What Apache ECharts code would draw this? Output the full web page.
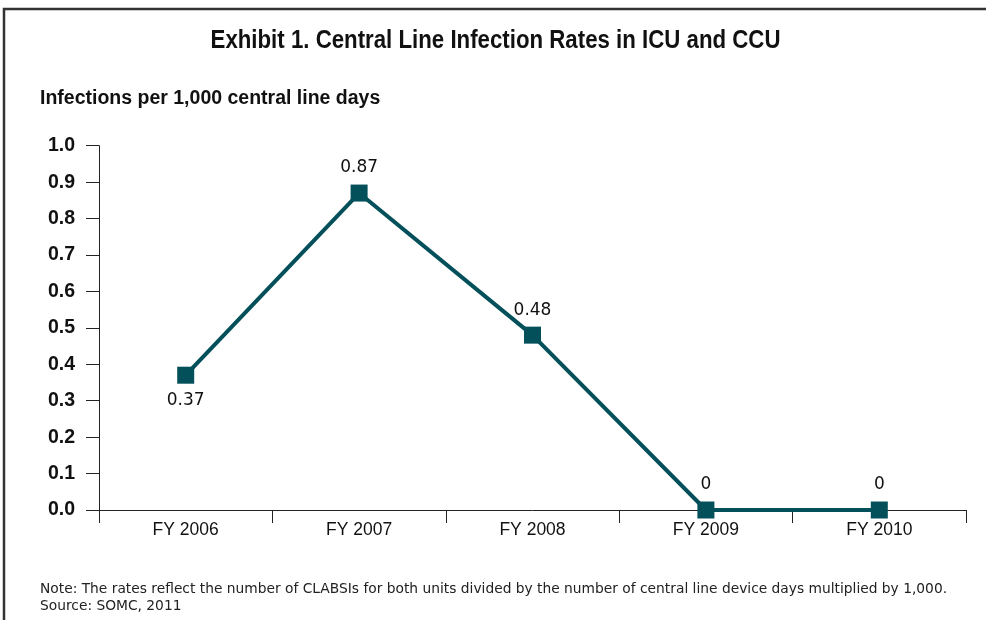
<!DOCTYPE html>
<html><head><meta charset="utf-8">
<script src="https://cdn.jsdelivr.net/npm/echarts@6/dist/echarts.min.js"></script>
<style>html,body{margin:0;padding:0;background:#fff}#c{width:986px;height:620px}</style>
</head><body><div id="c"></div>
<script>
const categories = ['FY 2006', 'FY 2007', 'FY 2008', 'FY 2009', 'FY 2010'];
const rates = [0.37, 0.87, 0.48, 0, 0];
const labelPositions = ['bottom', 'top', 'top', 'top', 'top'];
const yTicks = { min: 0, max: 1, interval: 0.1 };
const titleText = 'Exhibit 1. Central Line Infection Rates in ICU and CCU';
const yAxisTitle = 'Infections per 1,000 central line days';
const noteLines = [
  'Note: The rates reflect the number of CLABSIs for both units divided by the number of central line device days multiplied by 1,000.',
  'Source: SOMC, 2011'
];

const lineColor = '#03505a';
const sans = '"Liberation Sans", Arial, sans-serif';
const dejavu = '"DejaVu Sans", Verdana, sans-serif';

const chart = echarts.init(document.getElementById('c'), null, { renderer: 'canvas' });
chart.setOption({
  animation: false,
  backgroundColor: '#fff',
  grid: { left: 99, right: 20, top: 145.7, bottom: 110, containLabel: false },
  xAxis: {
    type: 'category', data: categories, boundaryGap: true,
    axisLine: { lineStyle: { color: '#222', width: 1 } },
    axisTick: { show: true, length: 13, lineStyle: { color: '#222' } },
    axisLabel: { margin: 11, fontFamily: sans, fontSize: 17.5, color: '#111' },
    splitLine: { show: false }
  },
  yAxis: {
    type: 'value', min: yTicks.min, max: yTicks.max, interval: yTicks.interval,
    axisLine: { show: true, lineStyle: { color: '#222', width: 1 } },
    axisTick: { show: true, length: 13, lineStyle: { color: '#222' } },
    axisLabel: { margin: 24, fontFamily: sans, fontSize: 19.5, fontWeight: 'bold', color: '#111',
      formatter: v => v.toFixed(1) },
    splitLine: { show: false }
  },
  series: [{
    type: 'line',
    data: rates.map((v, i) => ({ value: v, label: { position: labelPositions[i] } })),
    clip: false,
    symbol: 'rect', symbolSize: 17,
    lineStyle: { color: lineColor, width: 4 },
    itemStyle: { color: lineColor },
    label: { show: true, distance: 8, fontFamily: dejavu, fontSize: 17, color: '#111',
      formatter: p => String(p.value) }
  }],
  graphic: [
    { type: 'polyline', shape: { points: [[4, 620], [4, 9], [986, 9]] },
      style: { stroke: '#333', lineWidth: 2.5, fill: null } },
    { type: 'text', x: 495.5, y: 41, scaleX: 0.89,
      style: { text: titleText, x: 0, y: 0, textAlign: 'center', textVerticalAlign: 'middle', verticalAlign: 'middle',
        font: 'bold 25px ' + sans, fill: '#111' } },
    { type: 'text', x: 40, y: 98.5,
      style: { text: yAxisTitle, x: 0, y: 0, textAlign: 'left', textVerticalAlign: 'middle', verticalAlign: 'middle',
        font: 'bold 19.5px ' + sans, fill: '#111' } },
    { type: 'text', x: 40, y: 589,
      style: { text: noteLines[0], x: 0, y: 0, textAlign: 'left', textVerticalAlign: 'middle', verticalAlign: 'middle',
        font: '13.8px ' + dejavu, fill: '#222' } },
    { type: 'text', x: 40, y: 606,
      style: { text: noteLines[1], x: 0, y: 0, textAlign: 'left', textVerticalAlign: 'middle', verticalAlign: 'middle',
        font: '13.8px ' + dejavu, fill: '#222' } }
  ]
});
</script></body></html>
